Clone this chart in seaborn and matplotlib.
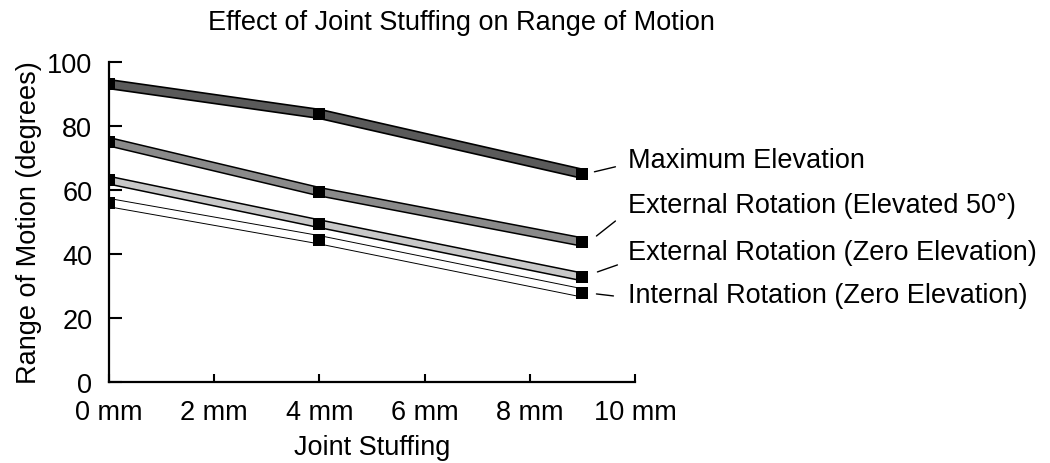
import pandas as pd
import matplotlib.pyplot as plt
import seaborn as sns
from matplotlib.transforms import offset_copy

# Datos
relleno_mm = [0, 4, 9]
elevacion_maxima = [93, 83.7, 65]
rot_ext_elevada = [75, 59.4, 43.7]
rot_ext_cero = [63, 49.4, 32.8]
rot_int_cero = [56, 44.4, 27.8]

series = [
    ("Maximum Elevation", elevacion_maxima),
    ("External Rotation (Elevated 50°)", rot_ext_elevada),
    ("External Rotation (Zero Elevation)", rot_ext_cero),
    ("Internal Rotation (Zero Elevation)", rot_int_cero),
]

ticks_x = [0, 2, 4, 6, 8, 10]
etiquetas_x = ["0 mm", "2 mm", "4 mm", "6 mm", "8 mm", "10 mm"]
ticks_y = [0, 20, 40, 60, 80, 100]

# Estilo
sns.set_style("white")
plt.rcParams['font.family'] = ['Liberation Sans', 'DejaVu Sans']
plt.rcParams['text.color'] = 'black'
plt.rcParams['axes.labelcolor'] = 'black'
plt.rcParams['xtick.color'] = 'black'
plt.rcParams['ytick.color'] = 'black'

# colores de relleno y grosores (borde, interior) en puntos
rellenos = ["#5a5a5a", "#8a8a8a", "#c8c8c8", "white"]
grosores = [(7.6, 5.2), (7.0, 4.8), (6.6, 4.4), (6.6, 5.2)]
# desplazamientos de la línea guía y del texto (pixeles, respecto al último punto)
guia_ini = [(12, 2), (14, 6), (15, 5), (14, -1)]
guia_fin = [(33, 7), (33, 21), (35, 12), (31, -3)]
texto_pos = [(46, 14), (46, 37), (46, 25), (46, -2)]

fig = plt.figure(figsize=(10.5, 4.64), dpi=100)
ax = fig.add_axes([0.1038, 0.1746, 0.5010, 0.6903])

for i, (nombre, valores) in enumerate(series):
    df = pd.DataFrame({'mm': relleno_mm, 'grados': valores})
    sns.lineplot(data=df, x='mm', y='grados', ax=ax, color='black',
                 lw=grosores[i][0], solid_capstyle='butt', zorder=2 + i * 0.1)
    sns.lineplot(data=df, x='mm', y='grados', ax=ax, color=rellenos[i],
                 lw=grosores[i][1], solid_capstyle='butt', zorder=2.01 + i * 0.1)
    ax.scatter(relleno_mm, valores, marker='s', s=80, color='black',
               zorder=5, linewidths=0)

    # línea guía y etiqueta junto al último punto
    x_fin, y_fin = relleno_mm[-1], valores[-1]
    t0 = offset_copy(ax.transData, fig=fig, x=guia_ini[i][0], y=guia_ini[i][1], units='dots')
    t1 = offset_copy(ax.transData, fig=fig, x=guia_fin[i][0], y=guia_fin[i][1], units='dots')
    ax.annotate('', xy=(x_fin, y_fin), xycoords=t0,
                xytext=(x_fin, y_fin), textcoords=t1,
                arrowprops=dict(arrowstyle='-', lw=1.0, color='black',
                                shrinkA=0, shrinkB=0),
                annotation_clip=False)
    ax.annotate(nombre, xy=(x_fin, y_fin), xytext=texto_pos[i],
                textcoords='offset pixels', fontsize=19.5, va='center',
                ha='left', annotation_clip=False)

ax.set_xlim(0, 10)
ax.set_ylim(0, 100)
ax.set_xticks(ticks_x)
ax.set_xticklabels(etiquetas_x)
ax.set_yticks(ticks_y)

sns.despine(ax=ax)
for lado in ['left', 'bottom']:
    ax.spines[lado].set_linewidth(1.6)
    ax.spines[lado].set_color('black')
ax.tick_params(axis='y', direction='in', length=9, width=1.5, pad=12,
               labelsize=19.5, left=True)
ax.tick_params(axis='x', direction='in', length=6, width=1.5, pad=12,
               labelsize=19.5, bottom=True)

ax.set_xlabel('Joint Stuffing', fontsize=19.5, labelpad=7)
ax.set_ylabel('Range of Motion (degrees)', fontsize=19.5, labelpad=4)
fig.text(0.439, 0.950, 'Effect of Joint Stuffing on Range of Motion',
         fontsize=19.5, ha='center', va='center')

plt.savefig('out.png', dpi=100)
